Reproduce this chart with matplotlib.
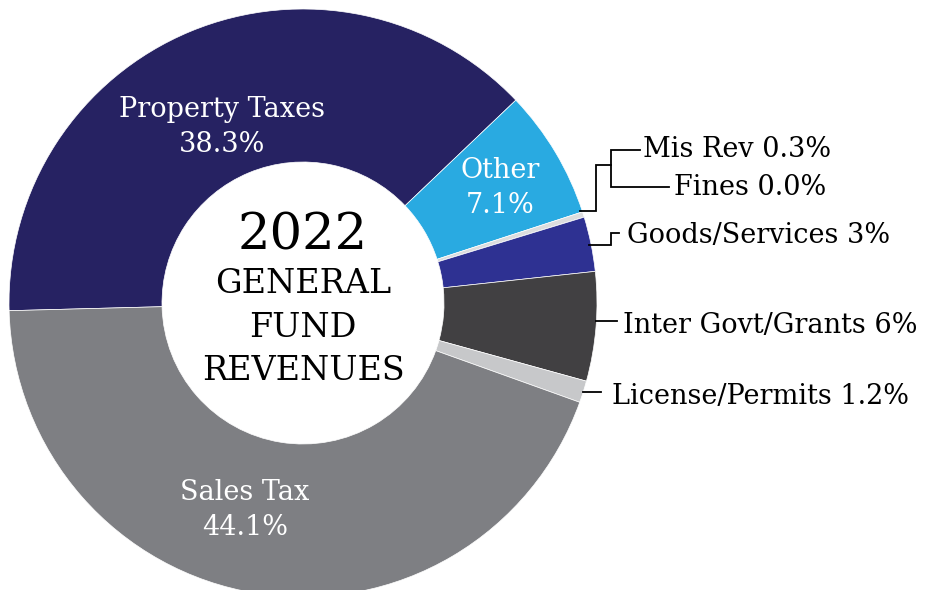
import matplotlib
matplotlib.use("Agg")
from matplotlib import pyplot as plt
import numpy as np

plt.rcParams['font.family'] = ['DejaVu Serif']

# data
labels = ["Property Taxes", "Other", "Mis Rev", "Fines", "Goods/Services",
          "Inter Govt/Grants", "License/Permits", "Sales Tax"]
values = [38.3, 7.1, 0.3, 0.0, 3.0, 6.0, 1.2, 44.1]
pct_text = ["38.3%", "7.1%", "0.3%", "0.0%", "3%", "6%", "1.2%", "44.1%"]
colors = ["#262262", "#29AAE1", "#DCDDDE", "#BCBEC0", "#2E3192",
          "#414042", "#C7C8CA", "#7E7F83"]

# geometry (pixels, y measured from top)
W, H = 932, 590
CX, CY, R, R_IN = 303, 303, 294, 141


def P(x, y):
    # pixel position -> axes data coords
    return x, H - y


fig = plt.figure(figsize=(W / 100, H / 100), dpi=100)
ax = fig.add_axes([0, 0, 1, 1])
ax.pie(values, colors=colors, startangle=181.5, counterclock=False,
       radius=R, center=P(CX, CY),
       wedgeprops=dict(width=R - R_IN, edgecolor="white", linewidth=0.5))
ax.set_xlim(0, W)
ax.set_ylim(0, H)
ax.set_aspect("auto")
ax.axis("off")

# labels inside the ring
inside = {0: (222, 117, 152), 1: (500, 178, 213), 7: (245, 500, 535)}
for i, (x, y1, y2) in inside.items():
    ax.text(*P(x, y1), labels[i], color="white", fontsize=19.5,
            ha="center", va="baseline")
    ax.text(*P(x, y2), pct_text[i], color="white", fontsize=19.5,
            ha="center", va="baseline")

# centre title
ax.text(*P(303, 250), "2022", fontsize=37, ha="center", va="baseline")
for txt, yb in [("GENERAL", 293), ("FUND", 337), ("REVENUES", 380)]:
    ax.text(*P(303, yb), txt, fontsize=24, ha="center", va="baseline")

# outside labels
outside = {2: (643, 157), 3: (674, 195), 4: (627, 243), 5: (623, 333), 6: (612, 404)}
for i, (x, yb) in outside.items():
    ax.text(*P(x, yb), f"{labels[i]} {pct_text[i]}", fontsize=19.5,
            ha="left", va="baseline")


def edge_x(y):
    return CX + np.sqrt(R ** 2 - (y - CY) ** 2)


# leader lines
leaders = [
    [(edge_x(211) - 2, 211), (596, 211), (596, 165), (611, 165)],
    [(640, 150), (611, 150), (611, 187), (669, 187)],
    [(edge_x(245) - 2, 245), (611, 245), (611, 233), (619, 233)],
    [(edge_x(321), 321), (617, 321)],
    [(edge_x(392), 392), (601, 392)],
]
for pts in leaders:
    xs = [p[0] for p in pts]
    ys = [H - p[1] for p in pts]
    ax.plot(xs, ys, color="black", linewidth=1.3, solid_joinstyle="miter")

fig.savefig("out.png", dpi=100)
